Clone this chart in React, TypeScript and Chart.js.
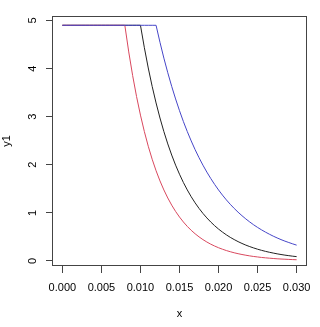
import React, { useEffect, useRef } from "react";
import { Chart, registerables } from "chart.js";

Chart.register(...registerables);

const X_VALUES = [
  0.0, 0.0005, 0.001, 0.0015, 0.002, 0.0025, 0.003, 0.0035, 0.004, 0.0045,
  0.005, 0.0055, 0.006, 0.0065, 0.007, 0.0075, 0.008, 0.0085, 0.009, 0.0095,
  0.01, 0.0105, 0.011, 0.0115, 0.012, 0.0125, 0.013, 0.0135, 0.014, 0.0145,
  0.015, 0.0155, 0.016, 0.0165, 0.017, 0.0175, 0.018, 0.0185, 0.019, 0.0195,
  0.02, 0.0205, 0.021, 0.0215, 0.022, 0.0225, 0.023, 0.0235, 0.024, 0.0245,
  0.025, 0.0255, 0.026, 0.0265, 0.027, 0.0275, 0.028, 0.0285, 0.029, 0.0295,
  0.03,
];

// black curve (y1)
const Y1 = [
  4.9, 4.9, 4.9, 4.9, 4.9, 4.9, 4.9, 4.9, 4.9, 4.9,
  4.9, 4.9, 4.9, 4.9, 4.9, 4.9, 4.9, 4.9, 4.9, 4.9,
  4.9, 4.434, 4.012, 3.63, 3.285, 2.972, 2.689, 2.433, 2.202, 1.992,
  1.803, 1.631, 1.476, 1.335, 1.208, 1.093, 0.989, 0.895, 0.81, 0.733,
  0.663, 0.6, 0.543, 0.491, 0.445, 0.402, 0.364, 0.329, 0.298, 0.27,
  0.244, 0.221, 0.2, 0.181, 0.164, 0.148, 0.134, 0.121, 0.11, 0.099,
  0.09,
];

// red curve
const Y2 = [
  4.9, 4.9, 4.9, 4.9, 4.9, 4.9, 4.9, 4.9, 4.9, 4.9,
  4.9, 4.9, 4.9, 4.9, 4.9, 4.9, 4.9, 4.346, 3.854, 3.418,
  3.032, 2.689, 2.385, 2.115, 1.876, 1.664, 1.476, 1.309, 1.161, 1.029,
  0.913, 0.81, 0.718, 0.637, 0.565, 0.501, 0.444, 0.394, 0.349, 0.31,
  0.275, 0.244, 0.216, 0.192, 0.17, 0.151, 0.134, 0.119, 0.105, 0.093,
  0.083, 0.073, 0.065, 0.058, 0.051, 0.045, 0.04, 0.036, 0.032, 0.028,
  0.025,
];

// blue curve
const Y3 = [
  4.9, 4.9, 4.9, 4.9, 4.9, 4.9, 4.9, 4.9, 4.9, 4.9,
  4.9, 4.9, 4.9, 4.9, 4.9, 4.9, 4.9, 4.9, 4.9, 4.9,
  4.9, 4.9, 4.9, 4.9, 4.9, 4.546, 4.217, 3.913, 3.63, 3.368,
  3.124, 2.898, 2.689, 2.495, 2.314, 2.147, 1.992, 1.848, 1.715, 1.591,
  1.476, 1.369, 1.27, 1.178, 1.093, 1.014, 0.941, 0.873, 0.81, 0.751,
  0.697, 0.647, 0.6, 0.557, 0.516, 0.479, 0.444, 0.412, 0.383, 0.355,
  0.329,
];

const X_TICKS = [0, 0.005, 0.01, 0.015, 0.02, 0.025, 0.03];
const X_TICK_LABELS = ["0.000", "0.005", "0.010", "0.015", "0.020", "0.025", "0.030"];
const Y_TICKS = [0, 1, 2, 3, 4, 5];
const Y_TICK_LABELS = ["0", "1", "2", "3", "4", "5"];

const FONT = "'Liberation Sans', Arial, Helvetica, sans-serif";
const AXIS_COLOR = "#444444";

const toPoints = (ys: number[]) => X_VALUES.map((x, i) => ({ x, y: ys[i] }));

const boxPlugin = {
  id: "rbox",
  afterDraw(chart: any) {
    const { ctx, chartArea } = chart;
    ctx.save();
    ctx.strokeStyle = AXIS_COLOR;
    ctx.lineWidth = 1;
    const l = Math.round(chartArea.left) - 0.5;
    const t = Math.round(chartArea.top) + 0.5;
    const r = Math.round(chartArea.right) + 0.5;
    const b = Math.round(chartArea.bottom) - 0.5;
    ctx.strokeRect(l, t, r - l, b - t);
    // rotated y tick labels (R style, parallel to axis)
    const ys = chart.scales.y;
    ctx.fillStyle = "#000";
    ctx.font = `11px ${FONT}`;
    ctx.textAlign = "center";
    ctx.textBaseline = "middle";
    Y_TICKS.forEach((v, i) => {
      const py = ys.getPixelForValue(v);
      ctx.save();
      ctx.translate(32.5, py);
      ctx.rotate(-Math.PI / 2);
      ctx.fillText(Y_TICK_LABELS[i], 0, 0);
      ctx.restore();
    });
    ctx.restore();
  },
};

export default function App() {
  const ref = useRef<HTMLCanvasElement | null>(null);

  useEffect(() => {
    document.body.style.margin = "0";
    if (!ref.current) return;
    const chart = new Chart(ref.current, {
      type: "line",
      data: {
        datasets: [
          {
            data: toPoints(Y3),
            borderColor: "#4646c8",
            borderWidth: 1,
            pointRadius: 0,
            tension: 0,
          },
          {
            data: toPoints(Y2),
            borderColor: "#d9485e",
            borderWidth: 1,
            pointRadius: 0,
            tension: 0,
          },
          {
            data: toPoints(Y1),
            borderColor: "#222222",
            borderWidth: 1,
            pointRadius: 0,
            tension: 0,
          },
        ],
      },
      options: {
        animation: false,
        responsive: false,
        events: [],
        layout: { padding: { top: 16, right: 14, left: 0, bottom: 0 } },
        plugins: {
          legend: { display: false },
          tooltip: { enabled: false },
        },
        scales: {
          x: {
            type: "linear",
            min: -0.0012,
            max: 0.0312,
            afterBuildTicks: (scale: any) => {
              scale.ticks = X_TICKS.map((v) => ({ value: v }));
            },
            afterFit: (scale: any) => {
              scale.height = 61;
            },
            border: { display: false },
            grid: {
              drawOnChartArea: false,
              drawTicks: true,
              tickLength: 7,
              color: AXIS_COLOR,
            },
            ticks: {
              autoSkip: false,
              maxRotation: 0,
              minRotation: 0,
              padding: 8,
              color: "#000",
              font: { family: FONT, size: 11 },
              callback: (_v: any, i: number) => X_TICK_LABELS[i],
            },
            title: {
              display: true,
              text: "x",
              color: "#000",
              font: { family: FONT, size: 11 },
              padding: { top: 0, bottom: 6 },
            },
          },
          y: {
            type: "linear",
            min: -0.105,
            max: 5.093,
            afterBuildTicks: (scale: any) => {
              scale.ticks = Y_TICKS.map((v) => ({ value: v }));
            },
            afterFit: (scale: any) => {
              scale.width = 53;
            },
            border: { display: false },
            grid: {
              drawOnChartArea: false,
              drawTicks: true,
              tickLength: 7,
              color: AXIS_COLOR,
            },
            ticks: {
              color: "rgba(0,0,0,0)",
              font: { family: FONT, size: 11 },
              callback: (_v: any, i: number) => Y_TICK_LABELS[i],
            },
            title: {
              display: true,
              text: "y1",
              color: "#000",
              font: { family: FONT, size: 11 },
              padding: { top: 0, bottom: 0 },
            },
          },
        },
      },
      plugins: [boxPlugin],
    });
    return () => chart.destroy();
  }, []);

  return (
    <div style={{ width: 320, height: 327, background: "#fff" }}>
      <canvas ref={ref} width={320} height={327} />
    </div>
  );
}
